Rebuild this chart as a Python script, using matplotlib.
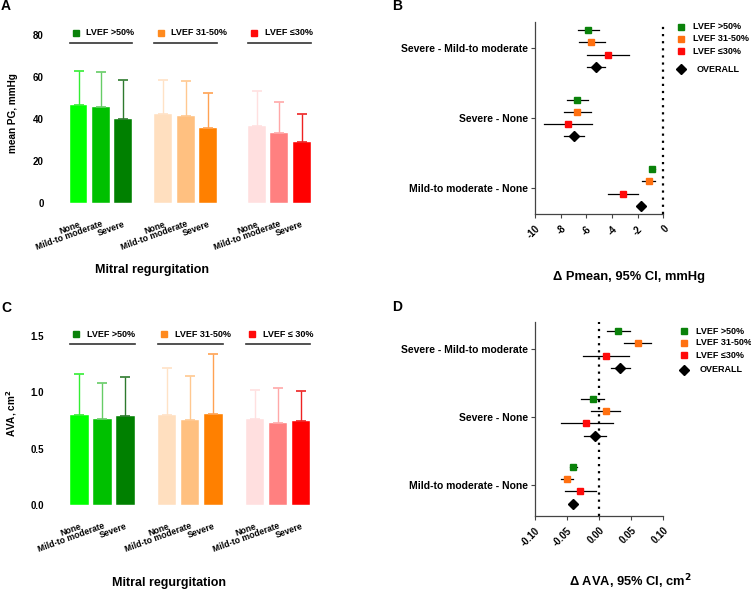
import matplotlib
matplotlib.use("Agg")
import matplotlib.pyplot as plt
from matplotlib.lines import Line2D

plt.rcParams['font.family'] = ['Liberation Sans', 'DejaVu Sans']
plt.rcParams['font.weight'] = 'bold'

W, H = 751, 592

mr_labels = ["None", "Mild-to moderate", "Severe"]
lvef_labels = ["LVEF >50%", "LVEF 31-50%", "LVEF \u226430%"]
lvef_labels_c = ["LVEF >50%", "LVEF 31-50%", "LVEF \u2264 30%"]
lvef_colors = ["#0a820a", "#ff8a1e", "#ff0a0a"]

bar_colors = [["#00ff00", "#00c000", "#008000"],
              ["#ffdfbf", "#ffc080", "#ff8000"],
              ["#ffdfdf", "#ff8080", "#ff0000"]]
err_colors = [["#33ee33", "#66cc66", "#2e7a2e"],
              ["#ffe2c6", "#ffc890", "#ffa252"],
              ["#ffe0e0", "#ffa8a8", "#ee2222"]]

# panel A: mean PG (mmHg), mean and SD per LVEF group x MR grade
pg_mean = [[46.7, 45.9, 40.0], [42.4, 41.3, 35.7], [36.5, 33.3, 29.0]]
pg_sd = [[16.2, 16.3, 18.4], [16.2, 16.8, 16.5], [16.7, 15.0, 13.5]]

# panel C: AVA (cm2)
ava_mean = [[0.80, 0.76, 0.79], [0.80, 0.75, 0.81], [0.76, 0.73, 0.74]]
ava_sd = [[0.36, 0.32, 0.34], [0.41, 0.39, 0.53], [0.26, 0.31, 0.27]]

comparisons = ["Severe - Mild-to moderate", "Severe - None", "Mild-to moderate - None"]
series = ["LVEF >50%", "LVEF 31-50%", "LVEF \u226430%", "OVERALL"]
series_colors = ["#0a820a", "#ff7010", "#ff0a0a", "black"]

# panel B: delta Pmean (mmHg) estimate, low, high
dp_est = [[-5.87, -5.61, -4.34, -5.25], [-6.70, -6.70, -7.45, -6.96], [-0.86, -1.14, -3.14, -1.71]]
dp_lo = [[-6.67, -6.57, -5.95, -5.92], [-7.51, -7.74, -9.32, -7.71], [-1.04, -1.66, -4.29, -1.85]]
dp_hi = [[-5.03, -4.57, -2.70, -4.55], [-5.85, -5.64, -5.56, -6.20], [-0.68, -0.65, -1.95, -1.57]]

# panel D: delta AVA (cm2)
da_est = [[0.030, 0.060, 0.010, 0.033], [-0.010, 0.010, -0.020, -0.006], [-0.040, -0.050, -0.030, -0.040]]
da_lo = [[0.0125, 0.038, -0.025, 0.019], [-0.028, -0.0125, -0.060, -0.023], [-0.045, -0.060, -0.054, -0.043]]
da_hi = [[0.048, 0.081, 0.046, 0.048], [0.008, 0.033, 0.021, 0.010], [-0.035, -0.040, -0.005, -0.037]]


def rect(l, t, r, b):
    return [l / W, 1 - b / H, (r - l) / W, (b - t) / H]


def fx(px):
    return px / W


def fy(py):
    return 1 - py / H


fig = plt.figure(figsize=(W / 100, H / 100), dpi=100)


def bar_panel(box, means, sds, group_starts, xlim, ylim, yticks, ytl, leg_labels, leg_line_y, leg_mark_y):
    ax = fig.add_axes(rect(*box))
    w = 0.8
    ticks, tlabels = [], []
    for g in range(3):
        xs = [group_starts[g] + i for i in range(3)]
        for i in range(3):
            ax.bar(xs[i], means[g][i], width=w, color=bar_colors[g][i], edgecolor="white", linewidth=0.3)
            ax.errorbar(xs[i], means[g][i], yerr=[[0], [sds[g][i]]], fmt="none",
                        ecolor=err_colors[g][i], elinewidth=1.0, capsize=3.5, capthick=1.2)
        ticks += xs
        tlabels += mr_labels
        x0, x1 = xs[0] - w / 2, xs[2] + w / 2
        ax.plot([x0, x1], [leg_line_y, leg_line_y], color="#333333", lw=1.2, clip_on=False)
        ax.plot([x0 + 0.28], [leg_mark_y], marker="s", ms=4.5, color=lvef_colors[g], clip_on=False, ls="none")
        ax.text(x0 + 0.75, leg_mark_y, leg_labels[g], fontsize=6.5, fontweight="bold", va="center", ha="left")
    ax.set_xlim(*xlim)
    ax.set_ylim(*ylim)
    ax.set_xticks(ticks)
    ax.set_xticklabels(tlabels, rotation=20, ha="right", rotation_mode="anchor", fontsize=6.2)
    ax.set_yticks(yticks)
    ax.set_yticklabels(ytl, fontsize=7)
    ax.tick_params(axis="x", length=0, pad=12)
    ax.tick_params(axis="y", length=0, pad=8)
    for s in ax.spines.values():
        s.set_visible(False)
    return ax


def forest_panel(box, est, lo, hi, gap, ylim, xlim, xticks, xtl):
    ax = fig.add_axes(rect(*box))
    centers = []
    for g in range(3):
        c = g * gap
        centers.append(c)
        for j in range(4):
            y = c + (j - 1.5)
            ax.plot([lo[g][j], hi[g][j]], [y, y], color="black", lw=0.9, zorder=2)
            if j < 3:
                ax.plot(est[g][j], y, marker="s", ms=4.6, color=series_colors[j], ls="none", zorder=3)
            else:
                ax.plot(est[g][j], y, marker="D", ms=5.2, color="black", ls="none", zorder=3)
    ax.axvline(0, color="black", ls=(0, (1, 2.2)), lw=1.6, clip_on=False)
    ax.set_ylim(*ylim)
    ax.set_xlim(*xlim)
    ax.set_yticks(centers)
    ax.set_yticklabels(comparisons, fontsize=7.5)
    ax.set_xticks(xticks)
    ax.set_xticklabels(xtl, rotation=45, ha="right", rotation_mode="anchor", fontsize=7)
    ax.tick_params(length=3, width=0.8, color="#444444", pad=2)
    ax.tick_params(axis="x", pad=4)
    ax.spines["top"].set_visible(False)
    ax.spines["right"].set_visible(False)
    for s in ["left", "bottom"]:
        ax.spines[s].set_color("#444444")
        ax.spines[s].set_linewidth(0.9)
    return ax


def forest_legend(xm, ys, xt):
    for j in range(4):
        if j < 3:
            fig.add_artist(Line2D([fx(xm)], [fy(ys[j])], marker="s", ms=4.6, color=series_colors[j], ls="none"))
            fig.text(fx(xt), fy(ys[j]), series[j], fontsize=6.5, fontweight="bold", va="center")
        else:
            fig.add_artist(Line2D([fx(xm)], [fy(ys[j])], marker="D", ms=5.2, color="black", ls="none"))
            fig.text(fx(xt + 4), fy(ys[j]), series[j], fontsize=6.5, fontweight="bold", va="center")


# A
bar_panel((55, 35, 320, 203), pg_mean, pg_sd, [0, 3.79, 7.96], (-1.05, 10.78), (0, 80),
          [0, 20, 40, 60, 80], ["0", "20", "40", "60", "80"], lvef_labels, 76.2, 81.0)
# C
bar_panel((55, 335.7, 320, 505), ava_mean, ava_sd, [0, 3.8, 7.6], (-1.05, 10.42), (0, 1.5),
          [0, 0.5, 1.0, 1.5], ["0.0", "0.5", "1.0", "1.5"], lvef_labels_c, 1.423, 1.515)

# B
forest_panel((535, 21.7, 663.3, 214), dp_est, dp_lo, dp_hi, 5.65, (13.45, -2.175), (-10, 0),
             [-10, -8, -6, -4, -2, 0], ["-10", "-8", "-6", "-4", "-2", "0"])
forest_legend(681, [26.7, 38.7, 51, 69.3], 693)

# D
forest_panel((535, 322.3, 663.3, 515.7), da_est, da_lo, da_hi, 5.6, (13.7, -2.24), (-0.1, 0.1),
             [-0.10, -0.05, 0, 0.05, 0.10], ["-0.10", "-0.05", "0.00", "0.05", "0.10"])
forest_legend(684, [331, 342.7, 355, 369.7], 696)

# axis titles and panel letters
fig.text(fx(152), fy(270), "Mitral regurgitation", fontsize=9, fontweight="bold", ha="center", va="center")
fig.text(fx(168.7), fy(583), "Mitral regurgitation", fontsize=9, fontweight="bold", ha="center", va="center")
fig.text(fx(13), fy(113), "mean PG, mmHg", fontsize=7.2, fontweight="bold", ha="center", va="center", rotation=90)
fig.text(fx(12), fy(413), "AVA, cm$^\\mathbf{2}$", fontsize=7.2, fontweight="bold", ha="center", va="center", rotation=90)
fig.text(fx(629), fy(276.7), "\u0394 Pmean, 95% CI, mmHg", fontsize=9.3, fontweight="bold", ha="center", va="center")
fig.text(fx(630), fy(582), "\u0394 AVA, 95% CI, cm$^\\mathbf{2}$", fontsize=9.3, fontweight="bold", ha="center", va="center")

for lab, x, y in [("A", 6, 6), ("B", 397, 6), ("C", 6, 308), ("D", 397, 307)]:
    fig.text(fx(x), fy(y), lab, fontsize=10, fontweight="bold", ha="center", va="center")

fig.savefig("out.png", dpi=100)
